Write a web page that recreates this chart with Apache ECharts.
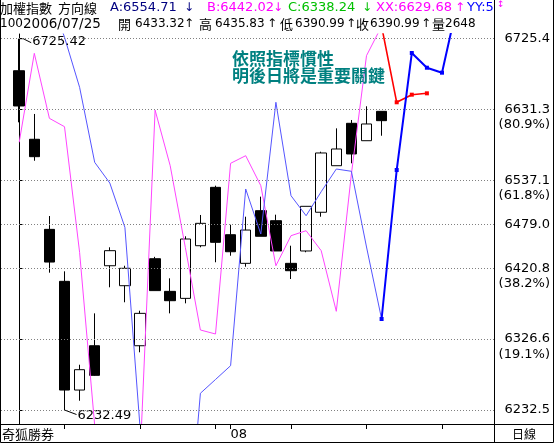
<!DOCTYPE html>
<html><head><meta charset="utf-8">
<script src="https://cdn.jsdelivr.net/npm/echarts@6/dist/echarts.min.js"></script>
<style>html,body{margin:0;padding:0;background:#fff}#c{width:554px;height:443px}</style>
</head><body><div id="c"></div>
<script>
// ---- data (daily bars, 2006/07/12 .. 2006/08/15) ----
const dates = ['07/12','07/13','07/14','07/17','07/18','07/19','07/20','07/21','07/24','07/25',
  '07/26','07/27','07/28','07/31','08/01','08/02','08/03','08/04','08/07','08/08',
  '08/09','08/10','08/11','08/14','08/15'];
const openV  = [6682.9,6591.9,6472.3,6403.3,6259.0,6317.8,6424.0,6397.5,6317.8,6433.32,
  6390.0,6380.7,6450.6,6528.1,6465.2,6427.2,6497.1,6483.8,6427.2,6443.6,
  6495.0,6556.8,6613.1,6590.0,6629.0];
const closeV = [6636.1,6568.8,6428.9,6259.0,6286.0,6278.5,6444.0,6420.6,6360.8,6390.99,
  6377.6,6459.5,6480.3,6455.1,6442.6,6471.4,6463.1,6443.6,6417.4,6502.9,
  6573.7,6579.0,6572.4,6612.2,6616.6];
const lowV   = [6614.4,6563.4,6414.8,6232.49,6244.8,6278.0,6395.4,6375.5,6309.1,6390.99,
  6360.8,6374.1,6448.5,6428.6,6437.3,6422.7,6463.1,6443.6,6406.4,6441.9,
  6489.1,6556.8,6560.0,6590.0,6596.6];
const highV  = [6725.42,6625.5,6490.0,6416.6,6292.6,6360.8,6448.5,6424.0,6364.3,6435.83,
  6407.3,6463.1,6491.4,6530.3,6478.5,6489.1,6515.7,6491.8,6450.6,6502.9,
  6575.4,6606.4,6617.5,6635.7,6629.0];
// direction lines
const xxLine = [6587.9,6706.0,6619.7,6608.6,6441.8,6212,6160,6150,6165,6630.6,
  6556.8,6448.5,6338.7,6333.4,6560.0,6570.1,6530.3,6424.0,6463.9,6470.5,
  6444.0,6363.5,6545.8,6702.9,6742];
const yyLine = [null,null,6785,6727.4,6660.9,6561.3,6533.8,6475.0,6210,6150,
  6100,6020,6254.7,6273,6291.3,6525.9,6466.1,6641.0,6517.0,6490.4,
  6522.3,6552.4,6549.4,6448.9,6353.3];
const forecastStart = 24;
const xxForecast = [6742,6641.0,6651.1,6652.9];
const yyForecast = [6353.3,6551.1,6706.4,6686.9,6680.3,6770];
// axis ticks / labels
const fibRatios = [0,0.191,0.382,0.5,0.618,0.809,1];
const pctRatios = [0.191,0.382,0.618,0.809];
const xTicks = [3,8,13,14,18,23,28];
const monthTicks = [14];
const monthLabels = ['08'];

// ---- derived ----
const hi = Math.max(...highV), lo = Math.min(...lowV);
const fibLevels = fibRatios.map(r => lo + r*(hi-lo));
const pctLevels = pctRatios.map(r => lo + r*(hi-lo));
const candleData = openV.map((o,i)=>[i,o,closeV[i],lowV[i],highV[i]]);
const hiIdx = highV.indexOf(hi), loIdx = lowV.indexOf(lo);

// ---- layout ----
const W=554,H=443;
const G = {left:1, right:60, top:34, bottom:19};
const pxPerPt = (410-38.7)/(hi-lo);
const yMax = hi + (38.7-G.top)/pxPerPt;
const yMin = lo - ((H-G.bottom)-410)/pxPerPt;
const step = 15.1, firstX = 19.2;
const xMin = -(firstX-G.left)/step;
const xMax = (W-G.right-firstX)/step;

const LAT = 'DejaVu Sans, Noto Sans CJK TC';
const CJK = 'Noto Sans CJK TC';

// header pieces: [text, x, kind, size, color]
const head1 = [
  ['加權指數',0,'k',13,'#000'],['方向線',58,'k',13,'#000'],
  ['A:6554.71',110,'n',13,'#000080'],['↓',184,'n',12,'#000080'],
  ['B:6442.02',207,'n',13,'#ff00ff'],['↓',273,'n',12,'#ff00ff'],
  ['C:6338.24',288,'n',13,'#00c000'],['↓',362,'n',12,'#00c000'],
  ['XX:6629.68',376,'n',13,'#ff00ff'],['↑',455,'n',12,'#ff00ff'],
  ['YY:5',467,'n',13,'#0000ff']];
const head2 = [
  ['100',0,'n',12,'#000'],['2006/07/25',23,'n',13.5,'#000'],
  ['開',118,'k',13,'#000'],['6433.32',135,'n',12,'#000'],['↑',184,'n',12,'#000'],
  ['高',199,'k',13,'#000'],['6435.83',215,'n',12,'#000'],['↑',267,'n',12,'#000'],
  ['低',280,'k',13,'#000'],['6390.99',295,'n',12,'#000'],['↑',346,'n',12,'#000'],
  ['收',356,'k',13,'#000'],['6390.99',370,'n',12,'#000'],['↑',421,'n',12,'#000'],
  ['量',432,'k',13,'#000'],['2648',445,'n',12,'#000']];
function headEls(list, yc){
  return list.map(t=>({type:'text',x:t[1],y:yc,z:10,silent:true,
    style:{text:t[0],font:t[3]+'px '+(t[2]==='k'?CJK:LAT),fill:t[4],verticalAlign:'middle',align:'left'}}));
}

const chart = echarts.init(document.getElementById('c'), null, {renderer:'canvas'});
chart.setOption({
  animation:false,
  backgroundColor:'#fff',
  grid:{left:G.left,right:G.right,top:G.top,bottom:G.bottom,containLabel:false,outerBoundsMode:'none'},
  xAxis:{type:'value',min:xMin,max:xMax,
    axisLine:{show:true,lineStyle:{color:'#000',width:1}},
    axisTick:{show:true,length:5,customValues:xTicks,lineStyle:{color:'#000'}},
    axisLabel:{customValues:monthTicks,formatter:v=>monthLabels[monthTicks.indexOf(Math.round(v))]||'',
      align:'left',margin:4,fontFamily:LAT,fontSize:13,color:'#000'},
    splitLine:{show:false}},
  yAxis:[
    {type:'value',position:'right',min:yMin,max:yMax,
     axisLine:{show:true,lineStyle:{color:'#000'}},
     axisTick:{show:true,length:4,customValues:fibLevels,lineStyle:{color:'#000'}},
     axisLabel:{customValues:fibLevels,formatter:v=>v.toFixed(1),align:'right',margin:56,
       fontFamily:LAT,fontSize:13,color:'#000'},
     splitLine:{show:false}},
    {type:'value',position:'right',min:yMin,max:yMax,
     axisLine:{show:false},axisTick:{show:false},splitLine:{show:false},
     axisLabel:{customValues:pctLevels,formatter:v=>'('+((v-lo)/(hi-lo)*100).toFixed(1)+'%)',
       align:'right',margin:56,verticalAlign:'top',padding:[9,0,0,0],
       fontFamily:LAT,fontSize:13,color:'#000'}}
  ],
  series:[
    {type:'line',data:[],z:1,silent:true,
     markLine:{silent:true,symbol:['none','none'],label:{show:false},animation:false,
       lineStyle:{color:'#808080',type:[1,2],width:1},
       data:fibLevels.map(v=>({yAxis:v}))}},
    {type:'candlestick',data:candleData,encode:{x:0,y:[1,2,3,4]},barWidth:11,z:2,silent:true,
     itemStyle:{color:'#fff',color0:'#000',borderColor:'#000',borderColor0:'#000',borderWidth:1}},
    {type:'custom',z:4,silent:true,
     data:[[hiIdx,hi,1],[loIdx,lo,-1]],
     renderItem:function(params,api){
       const p = api.coord([api.value(0),api.value(1)]);
       const up = api.value(2)>0;
       const pts = up ? [[p[0],p[1]],[p[0]+4,p[1]],[p[0]+12,p[1]+4]]
                      : [[p[0],p[1]],[p[0]+12,p[1]+4.5]];
       return {type:'group',children:[
         {type:'polyline',shape:{points:pts},style:{stroke:'#000',fill:null,lineWidth:1}},
         {type:'text',x:p[0]+13,y:p[1]+(up?3:5.5),style:{text:api.value(1).toFixed(2),
           font:'13px '+LAT,fill:'#000',verticalAlign:'middle',align:'left'}}
       ]};
     }},
    {type:'line',data:xxLine.map((v,i)=>[i,v]),symbol:'none',z:3,
     lineStyle:{color:'#ff44ff',width:1}},
    {type:'line',data:yyLine.map((v,i)=>[i,v]),symbol:'none',z:3,
     lineStyle:{color:'#5555ff',width:1}},
    {type:'line',data:xxForecast.map((v,k)=>k===0?{value:[forecastStart+k,v],symbol:'none'}:[forecastStart+k,v]),
     symbol:'rect',symbolSize:4,z:5,
     itemStyle:{color:'#ff0000'},lineStyle:{color:'#ff0000',width:1.6}},
    {type:'line',data:yyForecast.map((v,k)=>[forecastStart+k,v]),
     symbol:'rect',symbolSize:4,z:5,
     itemStyle:{color:'#0000ff'},lineStyle:{color:'#0000ff',width:2}}
  ],
  graphic:[].concat(headEls(head1,8), headEls(head2,24), [
    {type:'text',x:232,y:50,z:10,silent:true,style:{
      text:'依照指標慣性\n明後日將是重要關鍵',font:'bold 17px '+CJK,fill:'#008080',lineHeight:17,verticalAlign:'top'}},
    {type:'rect',z:15,silent:true,shape:{x:495,y:0,width:58,height:33},style:{fill:'#fff'}},
    {type:'text',x:497,y:0,z:16,silent:true,style:{text:'↕',font:'9px '+LAT,fill:'#ff00ff',verticalAlign:'top'}},
    {type:'text',x:2,y:428,z:10,silent:true,style:{text:'奇狐勝券',font:'13px '+CJK,fill:'#000',verticalAlign:'top'}},
    {type:'text',x:512,y:428,z:10,silent:true,style:{text:'日線',font:'12px '+CJK,fill:'#000',verticalAlign:'top'}},
    {type:'polyline',z:20,silent:true,shape:{points:[[0.5,0],[0.5,442.5],[553.5,442.5],[553.5,0]]},style:{stroke:'#000',fill:null,lineWidth:1}},
    {type:'line',z:20,silent:true,shape:{x1:W-G.right+0.5,y1:0,x2:W-G.right+0.5,y2:H},style:{stroke:'#000',lineWidth:1}},
    {type:'line',z:20,silent:true,shape:{x1:0,y1:H-G.bottom+0.5,x2:W,y2:H-G.bottom+0.5},style:{stroke:'#000',lineWidth:1}}
  ])
});
</script></body></html>
